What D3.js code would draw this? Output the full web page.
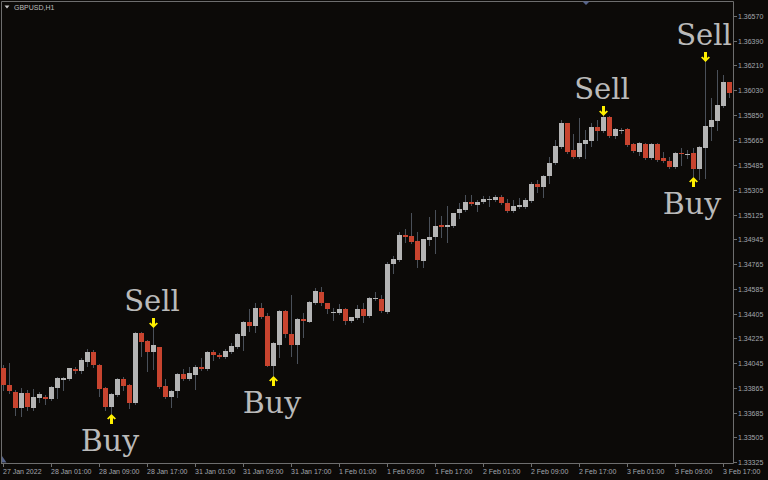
<!DOCTYPE html>
<html><head><meta charset="utf-8">
<script src="https://cdn.jsdelivr.net/npm/d3@7"></script>
<style>html,body{margin:0;padding:0;background:#0c0a08;overflow:hidden}</style>
</head><body>
<svg id="chart" width="768" height="480"></svg>
<script>
const symbolLabel = "GBPUSD,H1";
const openP = [1.34008,1.33885,1.33834,1.33717,1.33827,1.33717,1.33790,1.33797,1.33783,1.33863,
1.33921,1.33928,1.34001,1.33987,1.34052,1.34125,1.34030,1.33863,1.33725,1.33812,
1.33928,1.33885,1.33754,1.34263,1.34205,1.34125,1.34161,1.33877,1.33797,1.33841,
1.33965,1.33928,1.33958,1.34016,1.34001,1.34125,1.34103,1.34088,1.34125,1.34161,
1.34241,1.34343,1.34314,1.34445,1.34387,1.34023,1.34176,1.34423,1.34256,1.34176,
1.34365,1.34343,1.34481,1.34561,1.34481,1.34409,1.34409,1.34438,1.34350,1.34372,
1.34438,1.34387,1.34511,1.34511,1.34416,1.34765,1.34794,1.34976,1.34969,1.34933,
1.34787,1.34940,1.34962,1.35049,1.35034,1.35042,1.35136,1.35158,1.35216,1.35194,
1.35216,1.35231,1.35231,1.35253,1.35209,1.35151,1.35180,1.35180,1.35224,1.35347,
1.35325,1.35405,1.35500,1.35616,1.35791,1.35595,1.35544,1.35638,1.35660,1.35762,
1.35733,1.35835,1.35697,1.35733,1.35747,1.35638,1.35580,1.35638,1.35536,1.35638,
1.35536,1.35515,1.35471,1.35573,1.35558,1.35573,1.35456,1.35609,1.35762,1.35806,
1.35915,1.36089];
const highP = [1.34030,1.34045,1.33848,1.33863,1.33848,1.33856,1.33834,1.33812,1.33877,1.33943,
1.33943,1.34008,1.34016,1.34081,1.34147,1.34139,1.34035,1.33870,1.33827,1.33936,
1.33943,1.33890,1.34268,1.34268,1.34210,1.34307,1.34165,1.33928,1.33848,1.33972,
1.34001,1.34016,1.34030,1.34081,1.34130,1.34139,1.34118,1.34147,1.34190,1.34263,
1.34348,1.34438,1.34481,1.34481,1.34409,1.34195,1.34428,1.34428,1.34540,1.34370,
1.34409,1.34493,1.34591,1.34598,1.34485,1.34445,1.34474,1.34442,1.34383,1.34467,
1.34481,1.34525,1.34561,1.34540,1.34780,1.34823,1.34998,1.35020,1.35136,1.34998,
1.34950,1.35107,1.35158,1.35114,1.35187,1.35140,1.35209,1.35267,1.35267,1.35231,
1.35260,1.35260,1.35267,1.35267,1.35238,1.35231,1.35245,1.35245,1.35362,1.35376,
1.35410,1.35544,1.35667,1.35813,1.35795,1.35711,1.35827,1.35740,1.35791,1.35813,
1.35849,1.35840,1.35755,1.35755,1.35755,1.35646,1.35650,1.35646,1.35646,1.35646,
1.35580,1.35544,1.35580,1.35609,1.35595,1.35609,1.35624,1.36240,1.35973,1.36177,
1.36140,1.36093];
const lowP = [1.33848,1.33827,1.33667,1.33659,1.33703,1.33703,1.33761,1.33747,1.33776,1.33790,
1.33848,1.33921,1.33972,1.33972,1.34023,1.34016,1.33805,1.33703,1.33681,1.33805,
1.33848,1.33717,1.33747,1.34096,1.33987,1.34001,1.33863,1.33790,1.33725,1.33797,
1.33921,1.33921,1.33856,1.33994,1.33994,1.34067,1.34081,1.34081,1.34118,1.34154,
1.34139,1.34278,1.34270,1.34372,1.34020,1.33958,1.34088,1.34234,1.34096,1.34045,
1.34234,1.34340,1.34478,1.34467,1.34409,1.34358,1.34401,1.34329,1.34343,1.34365,
1.34343,1.34380,1.34503,1.34416,1.34409,1.34700,1.34787,1.34925,1.34920,1.34743,
1.34743,1.34903,1.34845,1.34962,1.34925,1.35034,1.35100,1.35151,1.35194,1.35151,
1.35209,1.35187,1.35224,1.35202,1.35144,1.35144,1.35173,1.35173,1.35216,1.35289,
1.35253,1.35355,1.35493,1.35609,1.35573,1.35536,1.35536,1.35536,1.35624,1.35667,
1.35726,1.35689,1.35682,1.35718,1.35624,1.35580,1.35558,1.35529,1.35529,1.35515,
1.35507,1.35464,1.35464,1.35485,1.35536,1.35405,1.35384,1.35391,1.35667,1.35740,
1.35908,1.35980];
const closeP = [1.33885,1.33841,1.33717,1.33827,1.33725,1.33797,1.33819,1.33783,1.33870,1.33936,
1.33936,1.34008,1.33987,1.34067,1.34125,1.34030,1.33856,1.33725,1.33819,1.33928,
1.33877,1.33754,1.34263,1.34198,1.34125,1.34176,1.33870,1.33797,1.33841,1.33965,
1.33928,1.33972,1.34016,1.34001,1.34125,1.34103,1.34088,1.34132,1.34169,1.34256,
1.34343,1.34314,1.34445,1.34380,1.34023,1.34190,1.34423,1.34256,1.34176,1.34365,
1.34350,1.34489,1.34569,1.34481,1.34438,1.34416,1.34438,1.34350,1.34380,1.34438,
1.34387,1.34518,1.34518,1.34423,1.34765,1.34802,1.34976,1.34962,1.34925,1.34794,
1.34947,1.34962,1.35042,1.35034,1.35049,1.35136,1.35165,1.35216,1.35202,1.35216,
1.35238,1.35238,1.35253,1.35209,1.35151,1.35187,1.35194,1.35231,1.35347,1.35325,
1.35405,1.35500,1.35624,1.35791,1.35580,1.35544,1.35646,1.35667,1.35762,1.35733,
1.35835,1.35697,1.35747,1.35740,1.35631,1.35587,1.35646,1.35536,1.35638,1.35522,
1.35515,1.35471,1.35573,1.35566,1.35566,1.35456,1.35616,1.35769,1.35813,1.35922,
1.36089,1.36009];
const priceTicks = [1.36570,1.36390,1.36210,1.36030,1.35850,1.35665,1.35485,1.35305,1.35125,1.34945,
1.34765,1.34585,1.34405,1.34225,1.34045,1.33865,1.33685,1.33505,1.33325];
const timeLabels = ["27 Jan 2022","28 Jan 01:00","28 Jan 09:00","28 Jan 17:00","31 Jan 01:00","31 Jan 09:00",
"31 Jan 17:00","1 Feb 01:00","1 Feb 09:00","1 Feb 17:00","2 Feb 01:00","2 Feb 09:00","2 Feb 17:00",
"3 Feb 01:00","3 Feb 09:00","3 Feb 17:00"];
const timeLabelStep = 8;
const buySignals = [18, 45, 115];
const sellSignals = [25, 100, 117];

const W = 768, H = 480;
const plotRight = 733, plotBottom = 463;
const svg = d3.select("#chart");
const bars = openP.map((o, i) => ({i, o, h: highP[i], l: lowP[i], c: closeP[i]}));

const x = d3.scaleLinear().domain([0, bars.length - 1]).range([2.7, 2.7 + 6 * (bars.length - 1)]);
const y = d3.scaleLinear().domain([1.33325, 1.36570]).range([462, 16]);
const cx = i => Math.round(x(i));

svg.append("rect").attr("width", W).attr("height", H).attr("fill", "#0c0a08");

// frame
const frameColor = "#6e6e6e";
svg.append("path").attr("d", `M1.5,${plotBottom} L1.5,1.5 L${plotRight}.5,1.5 L${plotRight}.5,${plotBottom}.5 L1,${plotBottom}.5`)
  .attr("fill", "none").attr("stroke", frameColor).attr("stroke-width", 1);

// candles
const g = svg.append("g");
g.selectAll("line.wick").data(bars).join("line").attr("class", "wick")
  .attr("x1", d => cx(d.i) + 0.5).attr("x2", d => cx(d.i) + 0.5)
  .attr("y1", d => Math.round(y(d.h))).attr("y2", d => Math.round(y(d.l)) + 1)
  .attr("stroke", "#4a5059").attr("stroke-width", 1);
g.selectAll("rect.body").data(bars).join("rect").attr("class", "body")
  .attr("x", d => cx(d.i) - 2).attr("width", 5)
  .attr("y", d => Math.round(y(Math.max(d.o, d.c))))
  .attr("height", d => Math.max(1, Math.round(y(Math.min(d.o, d.c))) - Math.round(y(Math.max(d.o, d.c)))))
  .attr("fill", d => d.c >= d.o ? "#b4b4b4" : "#c8442f");

// arrows
const arrowShape = [[0,0],[4.5,4.5],[3,5.5],[1.5,4],[1.5,10],[-1.5,10],[-1.5,4],[-3,5.5],[-4.5,4.5]];
const arrowColor = "#fff000";
const labelFont = "'DejaVu Serif', serif";
buySignals.forEach(i => {
  const px = cx(i) + 0.5, py = Math.round(y(lowP[i])) + 1;
  svg.append("polygon").attr("points", arrowShape.map(p => [px + p[0], py + p[1]].join(",")).join(" "))
    .attr("fill", arrowColor);
  svg.append("text").attr("x", px - 1.5).attr("y", py + 37).attr("text-anchor", "middle")
    .attr("font-family", labelFont).attr("font-size", 30).attr("fill", "#bababa").text("Buy");
});
sellSignals.forEach(i => {
  const px = cx(i) + 0.5, py = Math.round(y(highP[i])) + 1;
  svg.append("polygon").attr("points", arrowShape.map(p => [px + p[0], py - p[1]].join(",")).join(" "))
    .attr("fill", arrowColor);
  svg.append("text").attr("x", px - 1.5).attr("y", py - 17).attr("text-anchor", "middle")
    .attr("font-family", labelFont).attr("font-size", 29).attr("fill", "#bababa").text("Sell");
});

// right price axis
const axisText = "#a3a7ad";
const yAxis = svg.append("g");
priceTicks.forEach(v => {
  const py = Math.round(y(v)) + 0.5;
  yAxis.append("line").attr("x1", plotRight).attr("x2", plotRight + 4).attr("y1", py).attr("y2", py)
    .attr("stroke", frameColor);
  yAxis.append("text").attr("x", plotRight + 5).attr("y", py + 2.5)
    .attr("font-family", "'Liberation Sans', Arial, sans-serif").attr("font-size", 7)
    .attr("fill", axisText).text(v.toFixed(5));
});

// bottom time axis
const xAxis = svg.append("g");
timeLabels.forEach((t, k) => {
  const px = cx(k * timeLabelStep) + 0.5;
  xAxis.append("line").attr("x1", px).attr("x2", px).attr("y1", plotBottom).attr("y2", plotBottom + 4)
    .attr("stroke", frameColor);
  xAxis.append("text").attr("x", px - 0.5).attr("y", plotBottom + 11)
    .attr("font-family", "'Liberation Sans', Arial, sans-serif").attr("font-size", 7)
    .attr("fill", axisText).text(t);
});

// symbol title
svg.append("polygon").attr("points", "4.5,5.5 9.5,5.5 7,8.5").attr("fill", "#c8c8c8");
svg.append("text").attr("x", 14).attr("y", 10).attr("font-family", "'Liberation Sans', Arial, sans-serif")
  .attr("font-size", 7).attr("fill", "#bdbdbd").text(symbolLabel);

// shift markers
svg.append("polygon").attr("points", "582.5,1.5 589.5,1.5 586,5").attr("fill", "#56648c");
svg.append("polygon").attr("points", "2,456 2,462.5 6.5,462.5").attr("fill", "#56648c");
</script>
</body></html>
